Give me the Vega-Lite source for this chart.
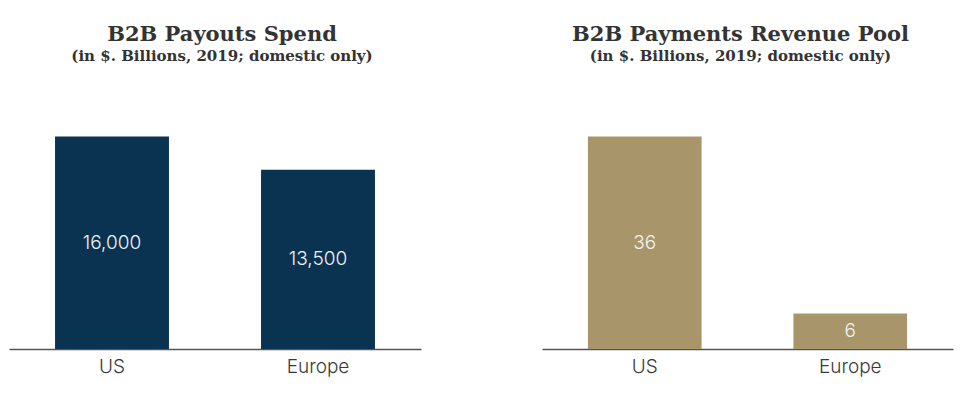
{
  "$schema": "https://vega.github.io/schema/vega-lite/v6.json",
  "background": "white",
  "padding": {"left": 9, "top": 24, "right": 7, "bottom": 5},
  "spacing": 121,
  "config": {
    "view": {"stroke": null},
    "axisX": {
      "labelAngle": 0, "title": null, "ticks": false, "domainColor": "#555555", "domainWidth": 1.5,
      "labelFont": "Inter", "labelFontWeight": 300, "labelFontSize": 19, "labelColor": "#3a3a3a", "labelPadding": 8
    },
    "title": {
      "font": "DejaVu Serif", "fontSize": 21, "fontWeight": "bold", "color": "#333333",
      "subtitleFont": "DejaVu Serif", "subtitleFontSize": 15, "subtitleFontWeight": "bold", "subtitleColor": "#333333",
      "subtitlePadding": 4, "anchor": "middle", "offset": 30
    }
  },
  "hconcat": [
    {
      "width": 412, "height": 255,
      "title": {"text": "B2B Payouts Spend", "subtitle": "(in $. Billions, 2019; domestic only)", "dx": 7},
      "data": {"values": [{"region": "US", "value": 16000}, {"region": "Europe", "value": 13500}]},
      "encoding": {
        "x": {"field": "region", "type": "nominal", "sort": ["US", "Europe"], "scale": {"paddingInner": 0.447, "paddingOuter": 0.2235}}
      },
      "layer": [
        {"mark": {"type": "bar", "color": "#0a3352"},
         "encoding": {"y": {"field": "value", "type": "quantitative", "scale": {"domain": [0, 19200]}, "axis": null}}},
        {"mark": {"type": "text", "color": "#f2f2f2", "font": "Inter", "fontWeight": 300, "fontSize": 19, "baseline": "middle"},
         "encoding": {"y": {"field": "value", "type": "quantitative", "scale": {"domain": [0, 38400]}, "axis": null},
                      "text": {"field": "value", "type": "quantitative", "format": ","}}}
      ],
      "resolve": {"scale": {"y": "independent"}}
    },
    {
      "width": 411, "height": 255,
      "title": {"text": "B2B Payments Revenue Pool", "subtitle": "(in $. Billions, 2019; domestic only)", "dx": -7},
      "data": {"values": [{"region": "US", "value": 36}, {"region": "Europe", "value": 6}]},
      "encoding": {
        "x": {"field": "region", "type": "nominal", "sort": ["US", "Europe"], "scale": {"paddingInner": 0.447, "paddingOuter": 0.2235}}
      },
      "layer": [
        {"mark": {"type": "bar", "color": "#a8966a"},
         "encoding": {"y": {"field": "value", "type": "quantitative", "scale": {"domain": [0, 43.2]}, "axis": null}}},
        {"mark": {"type": "text", "color": "#f2f2f2", "font": "Inter", "fontWeight": 300, "fontSize": 19, "baseline": "middle"},
         "encoding": {"y": {"field": "value", "type": "quantitative", "scale": {"domain": [0, 86.4]}, "axis": null},
                      "text": {"field": "value", "type": "quantitative", "format": ","}}}
      ],
      "resolve": {"scale": {"y": "independent"}}
    }
  ]
}
